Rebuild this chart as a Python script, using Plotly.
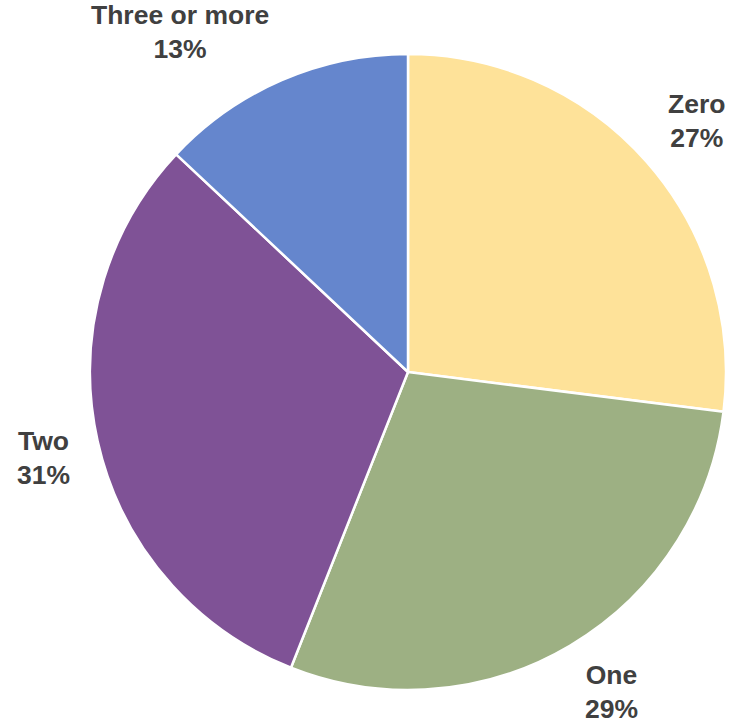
import math
import plotly.graph_objects as go

labels = ["Zero", "One", "Two", "Three or more"]
values = [27, 29, 31, 13]
colors = ["#FEE299", "#9DB083", "#7F5296", "#6586CD"]

W, H = 731, 723
cx, cy, r = 408, 372, 318  # pixel centre and radius of the pie
gap = 26
font_size = 26.5
half_block = 24

fig = go.Figure(go.Pie(
    labels=labels, values=values, sort=False, direction="clockwise", rotation=0,
    marker=dict(colors=colors, line=dict(color="white", width=2.5)),
    textinfo="none", hoverinfo="label+percent", showlegend=False,
    domain=dict(x=[(cx - r) / W, (cx + r) / W], y=[(H - cy - r) / H, (H - cy + r) / H]),
))

total = sum(values)
cum = 0
annotations = []
for lab, v in zip(labels, values):
    mid = (cum + v / 2) / total * 2 * math.pi
    cum += v
    dx, dy = math.sin(mid), -math.cos(mid)  # screen coords (dy down)
    px = cx + (r + gap) * dx
    py = cy + (r + gap) * dy
    xa = "left" if dx > 0.2 else ("right" if dx < -0.2 else "center")
    sy = max(-1.0, min(1.0, dy * 2))
    ty = py + sy * half_block
    annotations.append(dict(
        x=px / W, y=(H - ty) / H, xref="paper", yref="paper",
        text=f"<b>{lab}<br>{round(v / total * 100)}%</b>",
        showarrow=False, xanchor=xa, yanchor="middle", align="center",
        font=dict(family="Liberation Sans, Arial, sans-serif", size=font_size, color="#404040"),
    ))

fig.update_layout(
    width=W, height=H, margin=dict(l=0, r=0, t=0, b=0),
    paper_bgcolor="white", plot_bgcolor="white",
    annotations=annotations,
)

fig.write_html("out.html")
